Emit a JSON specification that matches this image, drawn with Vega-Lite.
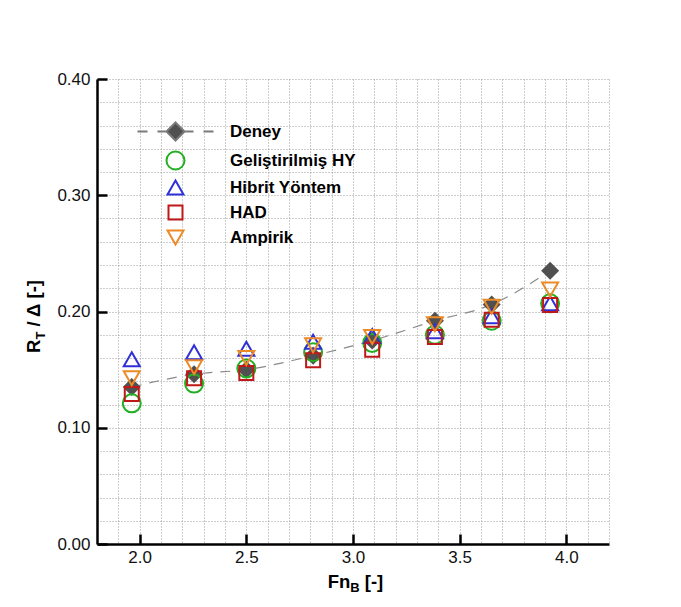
{
  "$schema": "https://vega.github.io/schema/vega-lite/v6.json",
  "width": 512,
  "height": 465,
  "autosize": {"type": "none"},
  "padding": {"left": 97, "top": 79, "right": 72, "bottom": 63},
  "background": "white",
  "config": {"view": {"stroke": null}, "font": "Liberation Sans"},
  "datasets": {
    "rows": [
      {"series": "Deney", "x": 1.963, "y": 0.135},
      {"series": "Deney", "x": 2.255, "y": 0.146},
      {"series": "Deney", "x": 2.5, "y": 0.150},
      {"series": "Deney", "x": 2.813, "y": 0.162},
      {"series": "Deney", "x": 3.09, "y": 0.175},
      {"series": "Deney", "x": 3.384, "y": 0.192},
      {"series": "Deney", "x": 3.65, "y": 0.206},
      {"series": "Deney", "x": 3.924, "y": 0.235},
      {"series": "Geliştirilmiş HY", "x": 1.963, "y": 0.121},
      {"series": "Geliştirilmiş HY", "x": 2.255, "y": 0.138},
      {"series": "Geliştirilmiş HY", "x": 2.5, "y": 0.151},
      {"series": "Geliştirilmiş HY", "x": 2.813, "y": 0.165},
      {"series": "Geliştirilmiş HY", "x": 3.09, "y": 0.173},
      {"series": "Geliştirilmiş HY", "x": 3.384, "y": 0.180},
      {"series": "Geliştirilmiş HY", "x": 3.65, "y": 0.192},
      {"series": "Geliştirilmiş HY", "x": 3.924, "y": 0.207},
      {"series": "Hibrit Yöntem", "x": 1.963, "y": 0.159},
      {"series": "Hibrit Yöntem", "x": 2.255, "y": 0.165},
      {"series": "Hibrit Yöntem", "x": 2.5, "y": 0.168},
      {"series": "Hibrit Yöntem", "x": 2.813, "y": 0.174},
      {"series": "Hibrit Yöntem", "x": 3.09, "y": 0.179},
      {"series": "Hibrit Yöntem", "x": 3.384, "y": 0.183},
      {"series": "Hibrit Yöntem", "x": 3.65, "y": 0.196},
      {"series": "Hibrit Yöntem", "x": 3.924, "y": 0.207},
      {"series": "HAD", "x": 1.963, "y": 0.129},
      {"series": "HAD", "x": 2.255, "y": 0.1425},
      {"series": "HAD", "x": 2.5, "y": 0.147},
      {"series": "HAD", "x": 2.813, "y": 0.158},
      {"series": "HAD", "x": 3.09, "y": 0.167},
      {"series": "HAD", "x": 3.384, "y": 0.178},
      {"series": "HAD", "x": 3.65, "y": 0.193},
      {"series": "HAD", "x": 3.924, "y": 0.2055},
      {"series": "Ampirik", "x": 1.963, "y": 0.1425},
      {"series": "Ampirik", "x": 2.255, "y": 0.152},
      {"series": "Ampirik", "x": 2.5, "y": 0.160},
      {"series": "Ampirik", "x": 2.813, "y": 0.171},
      {"series": "Ampirik", "x": 3.09, "y": 0.178},
      {"series": "Ampirik", "x": 3.384, "y": 0.189},
      {"series": "Ampirik", "x": 3.65, "y": 0.204},
      {"series": "Ampirik", "x": 3.924, "y": 0.219}
    ]
  },
  "data": {"name": "rows"},
  "resolve": {"axis": {"x": "independent", "y": "independent"}},
  "layer": [
    {
      "transform": [{"filter": "datum.series === 'Deney'"}],
      "mark": {"type": "line", "stroke": "#8a8a8a", "strokeWidth": 1.2, "strokeDash": [10, 8], "interpolate": "monotone"},
      "encoding": {
        "x": {
          "field": "x", "type": "quantitative",
          "scale": {"domain": [1.8, 4.2], "nice": false, "zero": false},
          "axis": {
            "orient": "bottom",
            "values": [1.8, 1.9, 2.0, 2.1, 2.2, 2.3, 2.4, 2.5, 2.6, 2.7, 2.8, 2.9, 3.0, 3.1, 3.2, 3.3, 3.4, 3.5, 3.6, 3.7, 3.8, 3.9, 4.0, 4.1, 4.2],
            "labelExpr": "abs(datum.value*2 - round(datum.value*2)) < 0.001 ? format(datum.value, '.1f') : ''",
            "grid": true, "gridDash": [1, 2], "gridColor": "#9a9a9a", "gridWidth": 1,
            "domainColor": "black", "domainWidth": 2.5,
            "tickSize": -10, "tickWidth": 2.5, "tickColor": "black",
            "tickOpacity": {"condition": {"test": "abs(datum.value*2 - round(datum.value*2)) < 0.001", "value": 1}, "value": 0},
            "labelFont": "Liberation Sans", "labelFontSize": 17, "labelColor": "#111", "labelPadding": 15,
            "title": "Fn", "titleFont": "Liberation Sans", "titleFontSize": 18.5, "titleFontWeight": "bold", "titleColor": "black",
            "titleX": 230.2, "titleY": 43, "titleAlign": "left", "titleBaseline": "alphabetic", "titleAngle": 0
          }
        },
        "y": {
          "field": "y", "type": "quantitative",
          "scale": {"domain": [0, 0.4], "nice": false, "zero": false},
          "axis": {
            "orient": "left",
            "values": [0, 0.02, 0.04, 0.06, 0.08, 0.1, 0.12, 0.14, 0.16, 0.18, 0.2, 0.22, 0.24, 0.26, 0.28, 0.3, 0.32, 0.34, 0.36, 0.38, 0.4],
            "labelExpr": "abs(datum.value*10 - round(datum.value*10)) < 0.001 ? format(datum.value, '.2f') : ''",
            "grid": true, "gridDash": [1, 2], "gridColor": "#9a9a9a", "gridWidth": 1,
            "domainColor": "black", "domainWidth": 2.5,
            "tickSize": -10, "tickWidth": 2.5, "tickColor": "black",
            "tickOpacity": {"condition": {"test": "abs(datum.value*10 - round(datum.value*10)) < 0.001", "value": 1}, "value": 0},
            "labelFont": "Liberation Sans", "labelFontSize": 17, "labelColor": "#111", "labelPadding": 17,
            "title": "/ Δ [-]", "titleFont": "Liberation Sans", "titleFontSize": 18.5, "titleFontWeight": "bold", "titleColor": "black",
            "titleX": -58, "titleY": 247, "titleAlign": "left", "titleBaseline": "alphabetic", "titleAngle": 270
          }
        }
      }
    },
    {
      "transform": [{"filter": "datum.series === 'Deney'"}],
      "mark": {"type": "point", "shape": "diamond", "size": 324, "filled": true, "fill": "#505050", "strokeWidth": 0, "opacity": 1},
      "encoding": {
        "x": {
          "field": "x", "type": "quantitative",
          "scale": {"domain": [1.8, 4.2], "nice": false, "zero": false},
          "axis": {
            "orient": "bottom", "domain": false, "ticks": false, "labels": false, "grid": false,
            "title": "[-]", "titleFont": "Liberation Sans", "titleFontSize": 18.5, "titleFontWeight": "bold", "titleColor": "black",
            "titleX": 267.3, "titleY": 43, "titleAlign": "left", "titleBaseline": "alphabetic", "titleAngle": 0
          }
        },
        "y": {
          "field": "y", "type": "quantitative",
          "scale": {"domain": [0, 0.4], "nice": false, "zero": false},
          "axis": {
            "orient": "left", "domain": false, "ticks": false, "labels": false, "grid": false,
            "title": "R", "titleFont": "Liberation Sans", "titleFontSize": 18.5, "titleFontWeight": "bold", "titleColor": "black",
            "titleX": -58, "titleY": 273.4, "titleAlign": "left", "titleBaseline": "alphabetic", "titleAngle": 270
          }
        }
      }
    },
    {
      "transform": [{"filter": "datum.series !== 'Deney'"}],
      "mark": {"type": "point", "size": 4, "strokeWidth": 2, "opacity": 1},
      "encoding": {
        "x": {
          "field": "x", "type": "quantitative",
          "scale": {"domain": [1.8, 4.2], "nice": false, "zero": false},
          "axis": {
            "orient": "bottom", "domain": false, "ticks": false, "labels": false, "grid": false,
            "title": "B", "titleFont": "Liberation Sans", "titleFontSize": 13, "titleFontWeight": "bold", "titleColor": "black",
            "titleX": 252.8, "titleY": 47.5, "titleAlign": "left", "titleBaseline": "alphabetic", "titleAngle": 0
          }
        },
        "y": {
          "field": "y", "type": "quantitative",
          "scale": {"domain": [0, 0.4], "nice": false, "zero": false},
          "axis": {
            "orient": "left", "domain": false, "ticks": false, "labels": false, "grid": false,
            "title": "T", "titleFont": "Liberation Sans", "titleFontSize": 13, "titleFontWeight": "bold", "titleColor": "black",
            "titleX": -53, "titleY": 260, "titleAlign": "left", "titleBaseline": "alphabetic", "titleAngle": 270
          }
        },
        "shape": {
          "field": "series", "type": "nominal",
          "scale": {
            "domain": ["Deney", "Geliştirilmiş HY", "Hibrit Yöntem", "HAD", "Ampirik"],
            "range": [
              "M-38,0L-28,0M-18,0L-8,0M8,0L18,0M28,0L38,0M0,-9L9,0L0,9L-9,0Z",
              "M-9,0A9,9 0 1,0 9,0A9,9 0 1,0 -9,0Z",
              "M0,-7L8,7L-8,7Z",
              "M-7,-7L7,-7L7,7L-7,7Z",
              "M-8,-7L8,-7L0,7Z"
            ]
          },
          "legend": {
            "orient": "none", "legendX": 70, "legendY": 44, "title": null, "padding": 0,
            "symbolSize": 4, "symbolStrokeWidth": 2, "labelOffset": 46, "rowPadding": 2,
            "labelFont": "Liberation Sans", "labelFontSize": 17, "labelFontWeight": "bold", "labelColor": "black", "labelLimit": 300,
            "encode": {"symbols": {"update": {"strokeWidth": {"signal": "datum.value === 'Deney' ? 1.2 : 2"}}}}
          }
        },
        "stroke": {
          "field": "series", "type": "nominal",
          "scale": {
            "domain": ["Deney", "Geliştirilmiş HY", "Hibrit Yöntem", "HAD", "Ampirik"],
            "range": ["#7a7a7a", "#22b022", "#3030d8", "#bf1818", "#ec8a28"]
          }
        },
        "fill": {
          "field": "series", "type": "nominal",
          "scale": {
            "domain": ["Deney", "Geliştirilmiş HY", "Hibrit Yöntem", "HAD", "Ampirik"],
            "range": ["#505050", "transparent", "transparent", "transparent", "transparent"]
          }
        }
      }
    }
  ]
}
